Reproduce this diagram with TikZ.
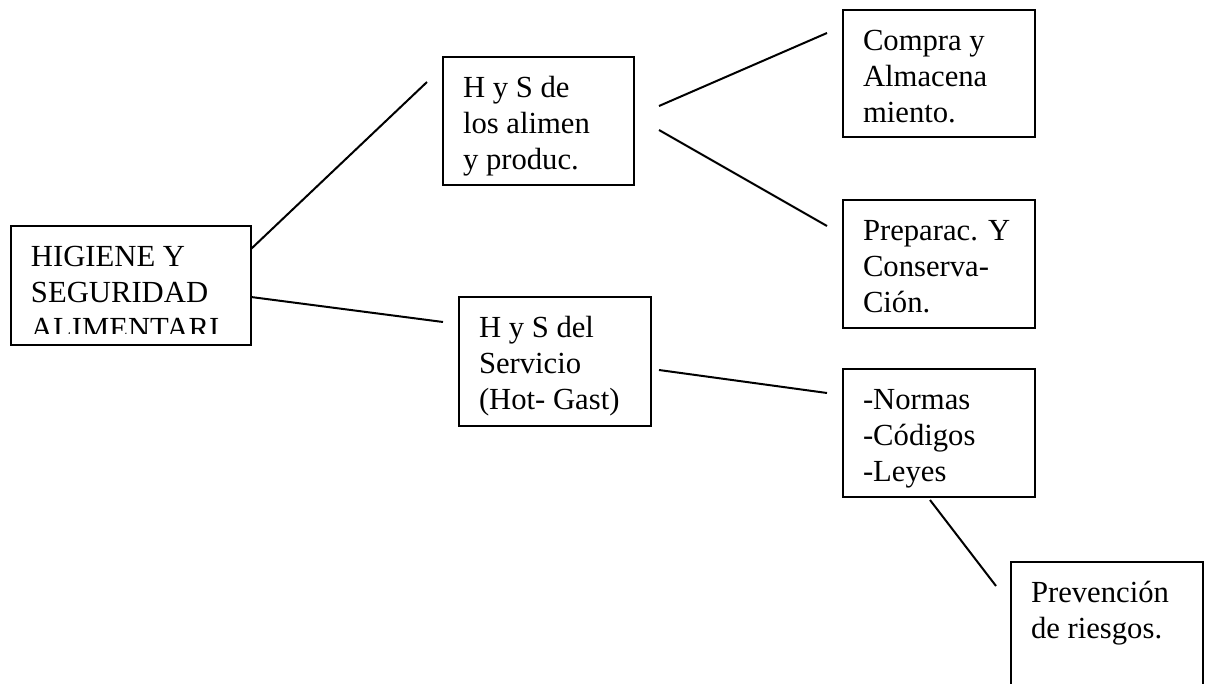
\documentclass[tikz,border=0pt]{standalone}
\usepackage{fontspec}
\setmainfont{Liberation Serif}
\usetikzlibrary{calc}

\tikzset{every picture/.style={line width=1.5pt}}
\tikzset{caja/.style={draw, inner xsep=15pt, inner ysep=0pt, outer sep=0pt, anchor=north west, font=\fontsize{23}{27}\selectfont}}
\newcommand{\cajatxt}[3]{\parbox[t][#2][t]{#1}{\vspace*{11.8pt}\strut #3}}

\begin{document}
\begin{tikzpicture}[x=0.75pt,y=0.75pt,yscale=-1,xscale=1]
\useasboundingbox (0,0) rectangle (1205,684);

%Shape: Rectangle, text cut at the bottom
\begin{scope}
\clip (0,220) rectangle (260,333);
\node[caja, draw=none] (main) at (11,226) {\cajatxt{150pt}{89.25pt}{HIGIENE Y\\SEGURIDAD\\ALIMENTARI}};
\end{scope}
\draw (main.north west) rectangle (main.south east);
%Shape: Rectangle
\node[caja] (hsa) at (443,57) {\cajatxt{113.25pt}{96pt}{H y S de\\los alimen\\y produc.}};
%Shape: Rectangle
\node[caja] (hss) at (459,297) {\cajatxt{114pt}{96.75pt}{H y S del\\Servicio\\(Hot- Gast)}};
%Shape: Rectangle
\node[caja] (compra) at (843,10) {\cajatxt{114pt}{95.25pt}{Compra y\\Almacena\\miento.}};
%Shape: Rectangle
\node[caja] (prep) at (843,200) {\cajatxt{114pt}{96pt}{Preparac. Y\\Conserva-\\Ción.}};
%Shape: Rectangle
\node[caja] (normas) at (843,369) {\cajatxt{114pt}{96pt}{-Normas\\-Códigos\\-Leyes}};
%Shape: Rectangle, runs off the page
\node[caja] (prev) at (1011,562) {\cajatxt{114pt}{96pt}{Prevención\\de riesgos.}};

%Straight Lines
\draw ($(main.north east)+(0,23)$) -- ($(hsa.north west)+(-16,25)$);
\draw ($(main.north east)+(0,71)$) -- ($(hss.north west)+(-16,25)$);
\draw ($(hsa.north east)+(25,49)$) -- ($(compra.north west)+(-16,23)$);
\draw ($(hsa.north east)+(25,73)$) -- ($(prep.north west)+(-16,26)$);
\draw ($(hss.north east)+(8,73)$) -- ($(normas.north west)+(-16,24)$);
\draw ($(normas.south west)+(87,3)$) -- ($(prev.north west)+(-15,24)$);
\end{tikzpicture}
\end{document}
